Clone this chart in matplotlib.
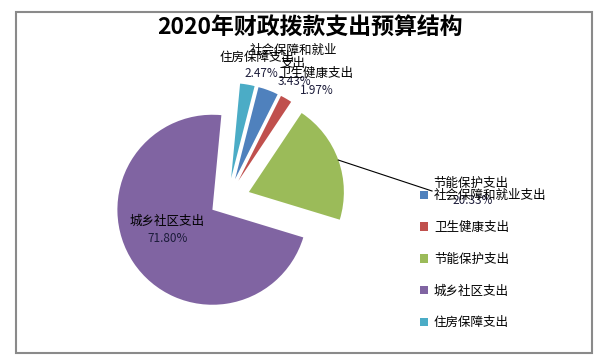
import numpy as np
import matplotlib
matplotlib.use('Agg')
import matplotlib.pyplot as plt
from matplotlib.patches import Rectangle

plt.rcParams['font.family'] = ['Noto Sans CJK SC', 'DejaVu Sans']

# data
title = '2020年财政拨款支出预算结构'
categories = ['社会保障和就业支出', '卫生健康支出', '节能保护支出', '城乡社区支出', '住房保障支出']
shares = [3.43, 1.97, 20.33, 71.80, 2.47]
colors = ['#4F81BD', '#C0504D', '#9BBB59', '#8064A2', '#4BACC6']
explode = [0.23, 0.23, 0.24, 0.19, 0.23]

# label texts as excel shows them, and where they sit (pixels, y down)
label_texts = ['社会保障和就业\n支出', '卫生健康支出', '节能保护支出', '城乡社区支出', '住房保障支出']
label_pos = [(293, 57), (316, 73), (471, 183), (167, 221), (257, 57)]
pct_pos = [(294, 81), (317, 90), (473, 200), (168, 238), (261, 73)]

W, H = 609, 360
cx, cy, R = 227.4, 199.7, 95.0   # pie centre / radius in pixels


def P(x, y):
    # pixel -> data units of the pie axes
    return (x - cx) / R, (cy - y) / R


fig = plt.figure(figsize=(W / 100, H / 100), dpi=100)
ax = fig.add_axes([0, 0, 1, 1])

wedges, _ = ax.pie(shares, colors=colors, explode=explode, startangle=75.7,
                   counterclock=False, radius=1, center=(0, 0))
ax.set_xlim(-cx / R, (W - cx) / R)
ax.set_ylim(-(H - cy) / R, cy / R)
ax.set_aspect('equal')
ax.axis('off')

# outer frame
fig.patches.append(Rectangle((16 / W, 1 - 353 / H), 576 / W, 341 / H,
                             transform=fig.transFigure, fill=False,
                             edgecolor='#8a8a8a', linewidth=1.5))

fig.text(310 / W, 1 - 28 / H, title, ha='center', va='center',
         fontsize=16.5, fontweight='bold')

for i, w in enumerate(wedges):
    lx, ly = P(*label_pos[i])
    px_, py_ = P(*pct_pos[i])
    ax.text(lx, ly, label_texts[i], ha='center', va='center', fontsize=9,
            linespacing=1.0)
    ax.text(px_, py_, f'{shares[i]:.2f}%', ha='center', va='center',
            fontsize=8.5, color='#1c1c3a')

# leader line for the green slice
g = wedges[2]
tm = np.deg2rad((g.theta1 + g.theta2) / 2)
x0 = g.center[0] + g.r * np.cos(tm)
y0 = g.center[1] + g.r * np.sin(tm)
x1, y1 = P(432, 191)
ax.plot([x0, x1], [y0, y1], color='black', lw=0.8)

leg = ax.legend(wedges, categories, loc='upper left',
                bbox_to_anchor=(414 / W, 1 - 183 / H), bbox_transform=fig.transFigure,
                frameon=False, fontsize=9, labelspacing=1.5,
                handlelength=0.65, handleheight=0.65, handletextpad=0.45,
                borderpad=0)

fig.savefig('out.png', dpi=100)
